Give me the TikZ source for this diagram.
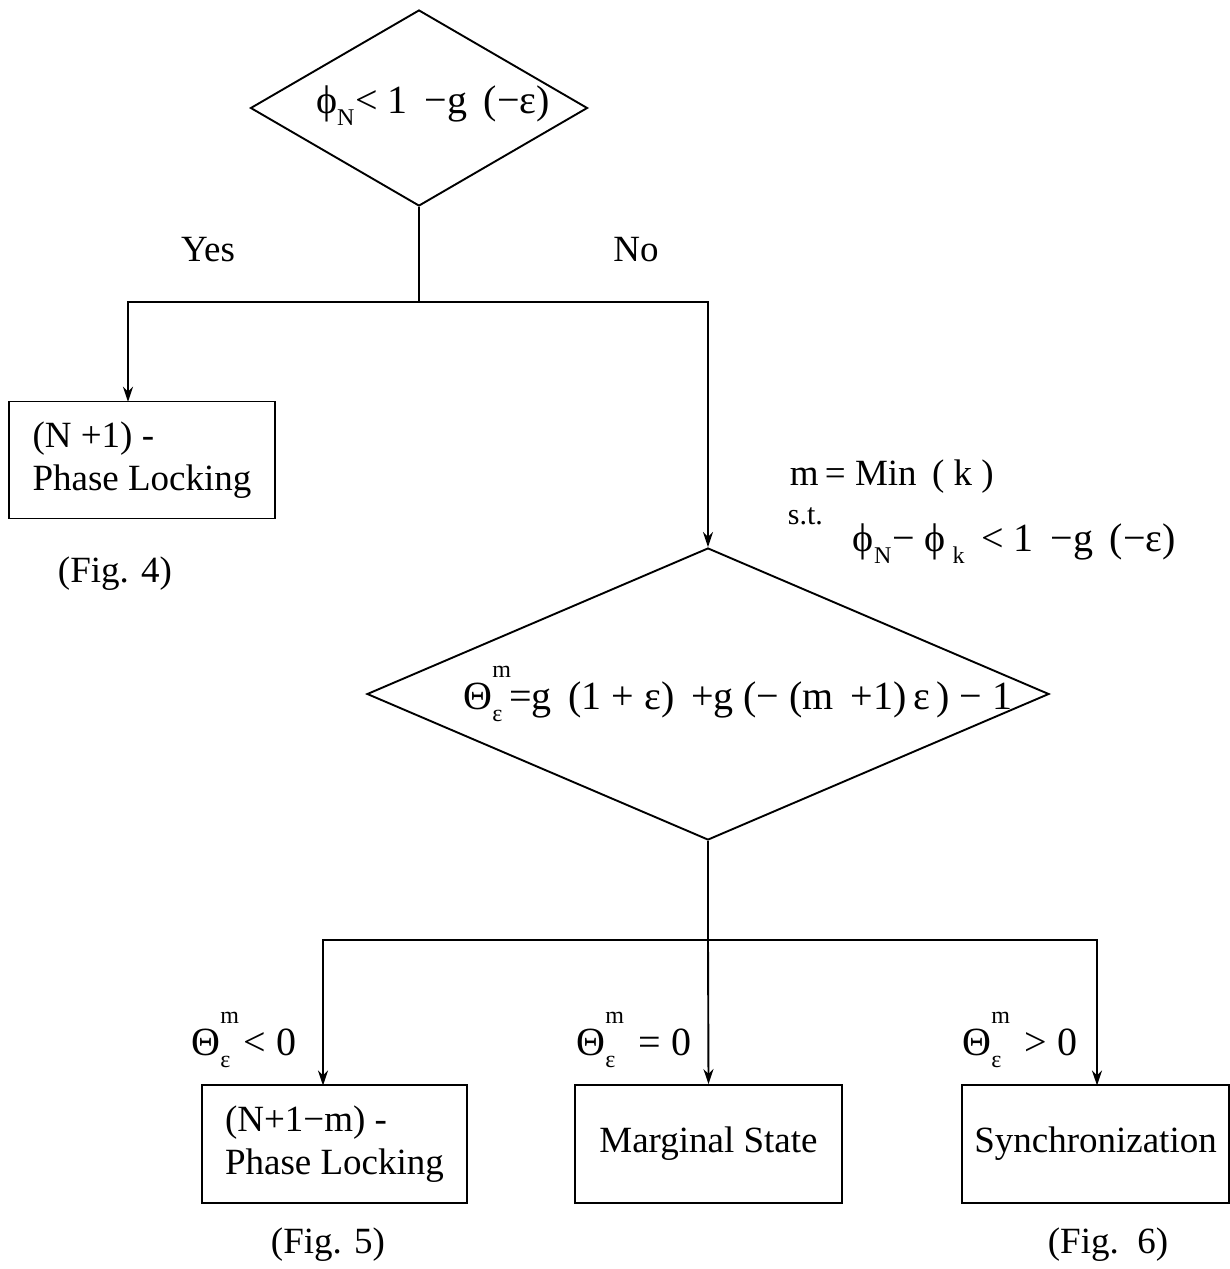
\documentclass[tikz,border=0pt]{standalone}
\usepackage{fontspec}
\setmainfont{Liberation Serif}
\usetikzlibrary{shapes.geometric,arrows.meta}
\newcommand{\smf}{\fontsize{24}{24}\selectfont}
\newcommand{\bigf}{\fontsize{40}{46}\selectfont}
\newcommand{\Thm}{Θ\rlap{\raisebox{0.8em}{\smf m}}\raisebox{-0.3em}{\smf ε}}
\newcommand{\lowsub}[1]{\raisebox{-0.3em}{\smf #1}}
\begin{document}
\begin{tikzpicture}[x=1pt,y=-1pt,
  font=\fontsize{37}{43}\selectfont,
  line width=1.9pt,
  box/.style={draw, rectangle, inner sep=0pt, align=left},
  dia/.style={draw, diamond, inner sep=0pt},
  arr/.style={-{Stealth[length=15pt,width=10pt]}},
  lbl/.style={inner sep=0pt, anchor=center}]
\useasboundingbox (0,0) rectangle (1230,1269);

% decision 1
\node[dia, minimum width=337pt, minimum height=196pt] (d1) at (419,108) {};
\node[lbl] (d1t) at (433,106) {\bigf ϕ\lowsub{N}\kern1pt< 1 \,−g \,(−ε)};

\node[lbl] (yes) at (208,250) {Yes};
\node[lbl] (no) at (636,250) {No};

% box 1
\node[box, minimum width=266pt, minimum height=117pt] (b1) at (142,460) {(N +1) -\\Phase Locking};
\node[lbl] (f4) at (115,574) {(Fig. 4)};

% condition text
\node[lbl, anchor=west] (minm) at (789,477) {m\,= Min \,( k )};
\node[lbl, anchor=west] (st) at (787,516) {\fontsize{30}{32}\selectfont s.t.};
\node[lbl, anchor=west] (cond) at (852,544) {\bigf ϕ\lowsub{N}\kern1pt− ϕ\,\lowsub{k} \,< 1 \,−g \,(−ε)};

% decision 2
\node[dia, minimum width=682pt, minimum height=292pt] (d2) at (708,694) {};
\node[lbl] (d2t) at (738,694) {\bigf \Thm\,=g \,(1 + ε) \,+g (− (m \,+1)\,ε\,) − 1};

% bottom boxes
\node[box, minimum width=265pt, minimum height=118pt] (bA) at (334.5,1144) {(N+1−m) -\\Phase Locking};
\node[box, minimum width=267pt, minimum height=118pt] (bB) at (708.5,1144) {Marginal State};
\node[box, minimum width=267pt, minimum height=118pt] (bC) at (1095.5,1144) {Synchronization};

\node[lbl] (lA) at (244,1040) {\bigf \Thm\,\,< 0};
\node[lbl] (lB) at (634,1040) {\bigf \Thm\,\, = 0};
\node[lbl] (lC) at (1020,1040) {\bigf \Thm\,\, > 0};

\node[lbl] (f5) at (328,1245) {(Fig. 5)};
\node[lbl] (f6) at (1108,1245) {(Fig.\ \ 6)};

% connectors
\coordinate (j1) at (419,302);
\coordinate (a1) at (128,401.8);
\coordinate (j2) at (708,940);
\coordinate (aA) at (323,1085.5);
\coordinate (aC) at (1097,1085.5);

\draw (d1.south) -- (j1);
\draw[arr] (j1) -| (a1);
\draw[arr] (j1) -| (d2.north);
\draw (d2.south) -- (j2);
\draw[arr] (j2) -| (aA);
\draw[arr] (j2) -- (bB.north);
\draw[arr] (j2) -| (aC);
\end{tikzpicture}
\end{document}
